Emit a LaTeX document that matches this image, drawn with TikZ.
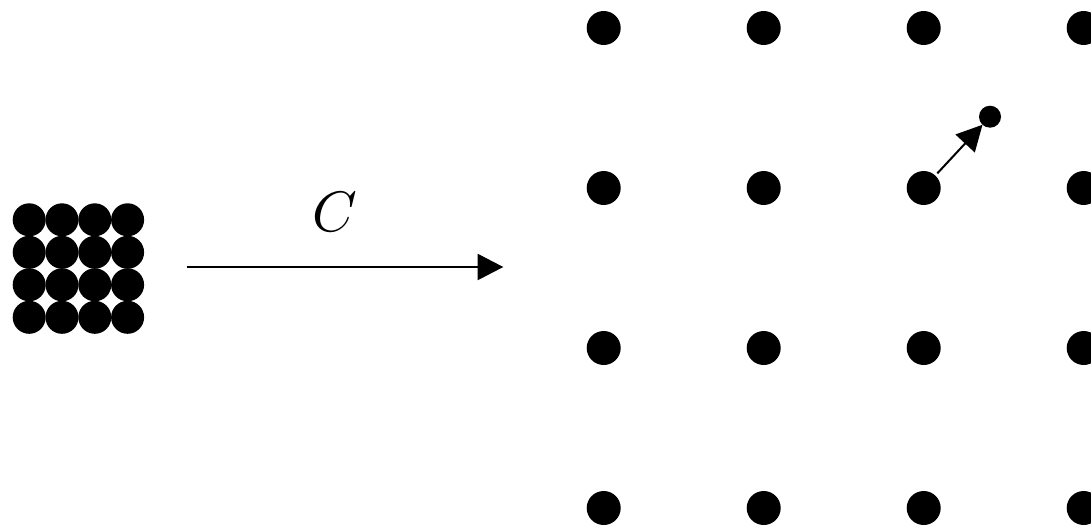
\documentclass[tikz,border=0pt]{standalone}
\usetikzlibrary{arrows.meta}
\tikzset{
  bigdot/.style={circle,fill=black,minimum size=34pt,inner sep=0pt,outer sep=0pt},
  packdot/.style={circle,fill=black,minimum size=33pt,inner sep=0pt,outer sep=0pt},
  smalldot/.style={circle,fill=black,minimum size=22pt,inner sep=0pt,outer sep=0pt},
  conn/.style={line width=2pt,-{Triangle[length=25.6pt,width=26pt]}},
  maplabel/.style={inner sep=0pt,scale=5.7},
}
\begin{document}
\begin{tikzpicture}[x=1pt,y=-1pt]
\useasboundingbox (0,0) rectangle (1091,525);
\clip (0,0) rectangle (1091,525);
% packed grid
\foreach \i [count=\ci] in {29.2,62,94.8,127.6}{
  \foreach \j [count=\cj] in {219.8,252.3,284.8,317.3}{
    \node[packdot] (p\ci\cj) at (\i,\j) {};
  }
}
% spread grid
\foreach \i [count=\ci] in {603.7,763.7,923.7,1083.7}{
  \foreach \j [count=\cj] in {28,188,348,508}{
    \node[bigdot] (g\ci\cj) at (\i,\j) {};
  }
}
\node[smalldot] (s) at (990,116.7) {};
% main map arrow
\coordinate (mstart) at (186.7,267);
\coordinate (mend) at (503.3,267);
\draw[conn] (mstart) -- (mend);
\node[maplabel] (C) at (335,212.5) {$C$};
% displacement arrow
\draw[conn,shorten <=3pt] (g32) -- (s);
\end{tikzpicture}
\end{document}
